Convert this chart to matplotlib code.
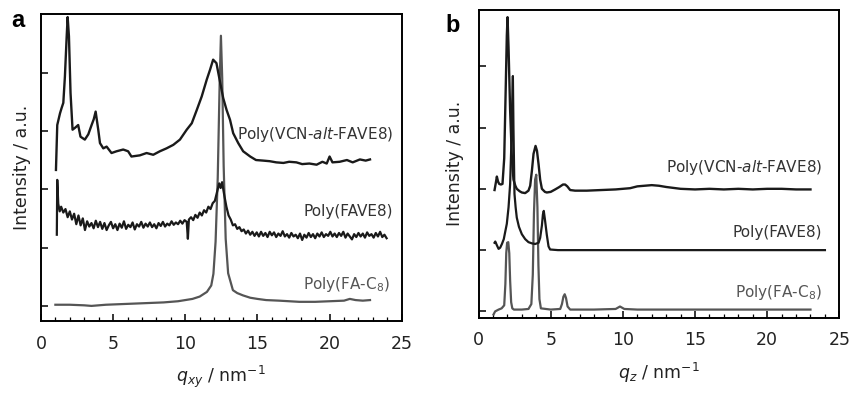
import matplotlib
matplotlib.use('Agg')
import matplotlib.pyplot as plt
from matplotlib.ticker import MultipleLocator

plt.rcParams['font.family'] = ['DejaVu Sans']
plt.rcParams['mathtext.fontset'] = 'dejavusans'

# ---- panel a : in-plane (q_xy) ----
a_vcn_x = [1.04, 1.13, 1.32, 1.43, 1.55, 1.66, 1.78, 1.85, 1.94, 2.05, 2.19, 2.35, 2.58, 2.74,
           3.04, 3.28, 3.51, 3.66, 3.79, 3.97, 4.09, 4.32, 4.55, 4.89, 5.24, 5.70, 6.04, 6.27,
           6.85, 7.32, 7.78, 8.24, 8.70, 9.17, 9.63, 10.1, 10.45, 10.8, 11.14, 11.49, 11.72,
           11.93, 12.16, 12.40, 12.63, 12.86, 13.1, 13.32, 13.67, 14.01, 14.5, 14.9, 15.4,
           15.85, 16.3, 16.8, 17.2, 17.7, 18.1, 18.6, 19.1, 19.5, 19.8, 20.0, 20.2, 20.7,
           21.2, 21.6, 22.1, 22.5, 22.8]
a_vcn_y = [2.33, 3.10, 3.30, 3.39, 3.48, 3.93, 4.60, 4.95, 4.62, 3.65, 3.02, 3.05, 3.10, 2.90,
           2.85, 2.94, 3.10, 3.20, 3.33, 3.02, 2.79, 2.70, 2.73, 2.62, 2.65, 2.68, 2.65, 2.56,
           2.58, 2.62, 2.59, 2.65, 2.70, 2.76, 2.85, 3.02, 3.13, 3.36, 3.59, 3.88, 4.05,
           4.22, 4.16, 3.85, 3.56, 3.36, 3.19, 2.96, 2.79, 2.65, 2.56, 2.50, 2.49,
           2.48, 2.46, 2.45, 2.47, 2.46, 2.43, 2.44, 2.42, 2.47, 2.44, 2.56, 2.46, 2.47,
           2.50, 2.46, 2.51, 2.49, 2.51]

a_fave_x = [1.10, 1.13, 1.20, 1.30, 1.40, 1.55, 1.70, 1.85, 2.00, 2.15, 2.30, 2.45, 2.60, 2.75,
            2.90, 3.05, 3.20, 3.35, 3.50, 3.65, 3.80, 3.95, 4.10, 4.25, 4.40, 4.55, 4.70, 4.85,
            5.00, 5.15, 5.30, 5.45, 5.60, 5.75, 5.90, 6.05, 6.20, 6.35, 6.50, 6.65, 6.80, 6.95,
            7.10, 7.25, 7.40, 7.55, 7.70, 7.85, 8.00, 8.15, 8.30, 8.45, 8.60, 8.75, 8.90, 9.05,
            9.20, 9.35, 9.50, 9.65, 9.80, 9.95, 10.10, 10.18, 10.25, 10.40, 10.55, 10.70, 10.85,
            11.00, 11.15, 11.30, 11.45, 11.60, 11.75, 11.90, 12.05, 12.20, 12.35, 12.45, 12.55,
            12.70, 12.85, 13.00, 13.15, 13.30, 13.45, 13.60, 13.75, 13.90, 14.05, 14.20, 14.35,
            14.50, 14.65, 14.80, 14.95, 15.10, 15.25, 15.40, 15.55, 15.70, 15.85, 16.00, 16.15,
            16.30, 16.45, 16.60, 16.75, 16.90, 17.05, 17.20, 17.35, 17.50, 17.65, 17.80, 17.95,
            18.10, 18.25, 18.40, 18.55, 18.70, 18.85, 19.00, 19.15, 19.30, 19.45, 19.60, 19.75,
            19.90, 20.05, 20.20, 20.35, 20.50, 20.65, 20.80, 20.95, 21.10, 21.25, 21.40, 21.55,
            21.70, 21.85, 22.00, 22.15, 22.30, 22.45, 22.60, 22.75, 22.90, 23.05, 23.20, 23.35,
            23.50, 23.65, 23.80, 23.95]
a_fave_y = [1.22, 2.16, 1.75, 1.62, 1.70, 1.60, 1.66, 1.52, 1.62, 1.48, 1.58, 1.40, 1.55, 1.38,
            1.50, 1.30, 1.45, 1.36, 1.42, 1.33, 1.46, 1.35, 1.44, 1.32, 1.42, 1.30, 1.38, 1.44,
            1.33, 1.40, 1.30, 1.41, 1.34, 1.45, 1.32, 1.39, 1.35, 1.43, 1.31, 1.40, 1.36, 1.44,
            1.34, 1.41, 1.36, 1.43, 1.35, 1.40, 1.33, 1.42, 1.37, 1.44, 1.36, 1.41, 1.38, 1.45,
            1.39, 1.43, 1.40, 1.46, 1.41, 1.47, 1.44, 1.15, 1.48, 1.52, 1.47, 1.56, 1.51,
            1.60, 1.55, 1.64, 1.60, 1.70, 1.66, 1.76, 1.80, 1.95, 2.10, 2.02, 2.12,
            1.90, 1.70, 1.55, 1.48, 1.38, 1.40, 1.32, 1.35, 1.28, 1.31, 1.24, 1.29,
            1.22, 1.27, 1.20, 1.26, 1.19, 1.27, 1.20, 1.25, 1.18, 1.27, 1.21, 1.26,
            1.18, 1.24, 1.20, 1.28, 1.19, 1.23, 1.17, 1.25, 1.19, 1.22, 1.16, 1.24,
            1.13, 1.22, 1.17, 1.25, 1.18, 1.23, 1.16, 1.24, 1.19, 1.26, 1.18, 1.23,
            1.20, 1.27, 1.19, 1.24, 1.18, 1.25, 1.20, 1.27, 1.17, 1.24, 1.19, 1.14,
            1.23, 1.18, 1.25, 1.19, 1.24, 1.17, 1.26, 1.20, 1.23, 1.17, 1.25, 1.19,
            1.27, 1.18, 1.22, 1.16]

a_fac8_x = [1.0, 2.0, 3.0, 3.5, 4.5, 5.5, 6.5, 7.5, 8.5, 9.5, 10.5, 11.0, 11.5, 11.8, 11.95,
            12.1, 12.25, 12.38, 12.47, 12.56, 12.66, 12.8, 12.97, 13.3, 13.6, 14.0, 14.5,
            15.0, 15.6, 16.5, 17.9, 19.0, 20.0, 21.0, 21.4, 21.8, 22.3, 22.8]
a_fac8_y = [0.02, 0.02, 0.01, 0.0, 0.02, 0.03, 0.04, 0.05, 0.06, 0.08, 0.12, 0.16, 0.24, 0.35, 0.55,
            1.1, 2.2, 3.8, 4.63, 3.9, 2.4, 1.15, 0.56, 0.27, 0.22, 0.18, 0.14,
            0.12, 0.10, 0.09, 0.07, 0.07, 0.08, 0.09, 0.12, 0.10, 0.09, 0.10]

# ---- panel b : out-of-plane (q_z) ----
b_vcn_x = [1.11, 1.20, 1.27, 1.35, 1.43, 1.55, 1.66, 1.78, 1.88, 1.96, 2.01, 2.08, 2.19, 2.31,
           2.42, 2.55, 2.65, 2.85, 3.0, 3.23, 3.46, 3.58, 3.70, 3.81, 3.95, 4.05, 4.16, 4.27,
           4.39, 4.6, 4.73, 5.0, 5.31, 5.6, 5.85, 6.0, 6.15, 6.35, 6.69, 7.5, 8.5, 9.5, 10.5,
           11.0, 11.5, 12.0, 12.5, 13.0, 14.0, 15.0, 16.0, 17.0, 18.0, 19.0, 20.0, 21.0, 22.0, 23.0]
b_vcn_y = [1.98, 2.10, 2.20, 2.12, 2.08, 2.07, 2.08, 2.50, 3.60, 4.50, 4.80, 4.30, 3.27, 2.51,
           2.15, 2.05, 2.00, 1.96, 1.94, 1.93, 1.97, 2.05, 2.30, 2.57, 2.70, 2.62, 2.40, 2.15,
           2.00, 1.95, 1.94, 1.95, 1.99, 2.03, 2.07, 2.07, 2.04, 1.98, 1.97, 1.97, 1.98, 1.99, 2.01,
           2.04, 2.05, 2.06, 2.05, 2.03, 2.00, 1.99, 2.00, 1.99, 2.00, 1.99, 2.00, 2.00, 1.99, 1.99]

b_fave_x = [1.11, 1.16, 1.27, 1.39, 1.50, 1.62, 1.75, 1.85, 1.96, 2.08, 2.19, 2.27, 2.33, 2.38,
            2.42, 2.49, 2.57, 2.65, 2.80, 3.0, 3.23, 3.46, 3.70, 3.92, 4.16, 4.27, 4.39, 4.46,
            4.52, 4.60, 4.73, 4.85, 4.96, 5.5, 7.0, 9.0, 11.0, 13.0, 15.0, 17.0, 19.0, 21.0,
            23.0, 24.0]
b_fave_y = [1.12, 1.14, 1.08, 1.02, 1.04, 1.10, 1.18, 1.30, 1.43, 1.70, 2.08, 2.70, 3.40, 3.84,
            3.00, 1.92, 1.70, 1.53, 1.38, 1.26, 1.18, 1.13, 1.11, 1.10, 1.12, 1.20, 1.40, 1.58,
            1.64, 1.50, 1.25, 1.06, 1.01, 1.00, 1.00, 1.00, 1.00, 1.00, 1.00, 1.00, 1.00, 1.00,
            1.00, 1.00]

b_fac8_x = [1.04, 1.15, 1.39, 1.60, 1.78, 1.86, 1.92, 1.98, 2.06, 2.13, 2.19, 2.26, 2.34, 2.45,
            3.0, 3.46, 3.66, 3.76, 3.84, 3.92, 4.00, 4.08, 4.15, 4.22, 4.32, 5.0, 5.66, 5.78,
            5.88, 5.97, 6.06, 6.17, 6.35, 8.0, 9.5, 9.8, 10.1, 11.0, 13.0, 15.0, 17.0, 19.0,
            21.0, 23.0]
b_fac8_y = [-0.05, 0.0, 0.03, 0.05, 0.10, 0.45, 0.95, 1.12, 1.13, 0.95, 0.50, 0.15, 0.05, 0.03,
            0.03, 0.04, 0.12, 0.60, 1.60, 2.15, 2.23, 1.70, 0.75, 0.20, 0.05, 0.03, 0.04, 0.12,
            0.24, 0.28, 0.22, 0.08, 0.03, 0.03, 0.04, 0.08, 0.04, 0.03, 0.03, 0.03, 0.03, 0.03,
            0.03, 0.03]

names = [r'Poly(VCN-$\mathit{alt}$-FAVE8)', 'Poly(FAVE8)', r'Poly(FA-C$_\mathrm{8}$)']
BLACK = '#1a1a1a'
GRAY = '#555555'

fig = plt.figure(figsize=(8.53, 3.93), dpi=100)
ax_a = fig.add_axes([0.048, 0.183, 0.423, 0.781])
ax_b = fig.add_axes([0.561, 0.192, 0.423, 0.783])

ax_a.plot(a_fac8_x, a_fac8_y, color=GRAY, lw=1.6)
ax_a.plot(a_fave_x, a_fave_y, color=BLACK, lw=1.6)
ax_a.plot(a_vcn_x, a_vcn_y, color=BLACK, lw=1.7)
ax_a.set_ylim(-0.26, 5.0)
ax_a.set_xlabel(r'$q_{xy}$ / nm$^{-1}$', fontsize=12.5, color='#222', labelpad=8)
ax_a.text(24.4, 2.93, names[0], ha='right', va='center', fontsize=11, color='#333')
ax_a.text(24.4, 1.62, names[1], ha='right', va='center', fontsize=11, color='#333')
ax_a.text(24.2, 0.36, names[2], ha='right', va='center', fontsize=11, color='#555')
ax_a.yaxis.set_label_coords(-0.028, 0.5)

ax_b.plot(b_fac8_x, b_fac8_y, color=GRAY, lw=1.6)
ax_b.plot(b_fave_x, b_fave_y, color=BLACK, lw=1.6)
ax_b.plot(b_vcn_x, b_vcn_y, color=BLACK, lw=1.7)
ax_b.set_ylim(-0.1, 4.92)
ax_b.set_xlabel(r'$q_{z}$ / nm$^{-1}$', fontsize=12.5, color='#222', labelpad=8)
ax_b.text(23.8, 2.35, names[0], ha='right', va='center', fontsize=11, color='#333')
ax_b.text(23.8, 1.29, names[1], ha='right', va='center', fontsize=11, color='#333')
ax_b.text(23.8, 0.31, names[2], ha='right', va='center', fontsize=11, color='#555')
ax_b.yaxis.set_label_coords(-0.040, 0.5)

for ax in (ax_a, ax_b):
    ax.set_xlim(0, 25)
    ax.xaxis.set_major_locator(MultipleLocator(5))
    ax.xaxis.set_minor_locator(MultipleLocator(1))
    ax.set_yticks([0, 1, 2, 3, 4])
    ax.set_yticklabels([])
    ax.tick_params(direction='in', which='major', length=5, width=1.1, top=False, right=False,
                   labelsize=12.5, labelcolor='#222', pad=10)
    ax.tick_params(direction='in', which='minor', length=3, width=0.9, top=False, right=False)
    for s in ax.spines.values():
        s.set_linewidth(1.4)
    ax.set_ylabel('Intensity / a.u.', fontsize=12.5, color='#222')

fig.text(0.0129, 0.931, 'a', fontsize=17, fontweight='bold', family='Liberation Sans', va='baseline')
fig.text(0.5217, 0.9186, 'b', fontsize=17, fontweight='bold', family='Liberation Sans', va='baseline')

fig.savefig('out.png', dpi=100)
